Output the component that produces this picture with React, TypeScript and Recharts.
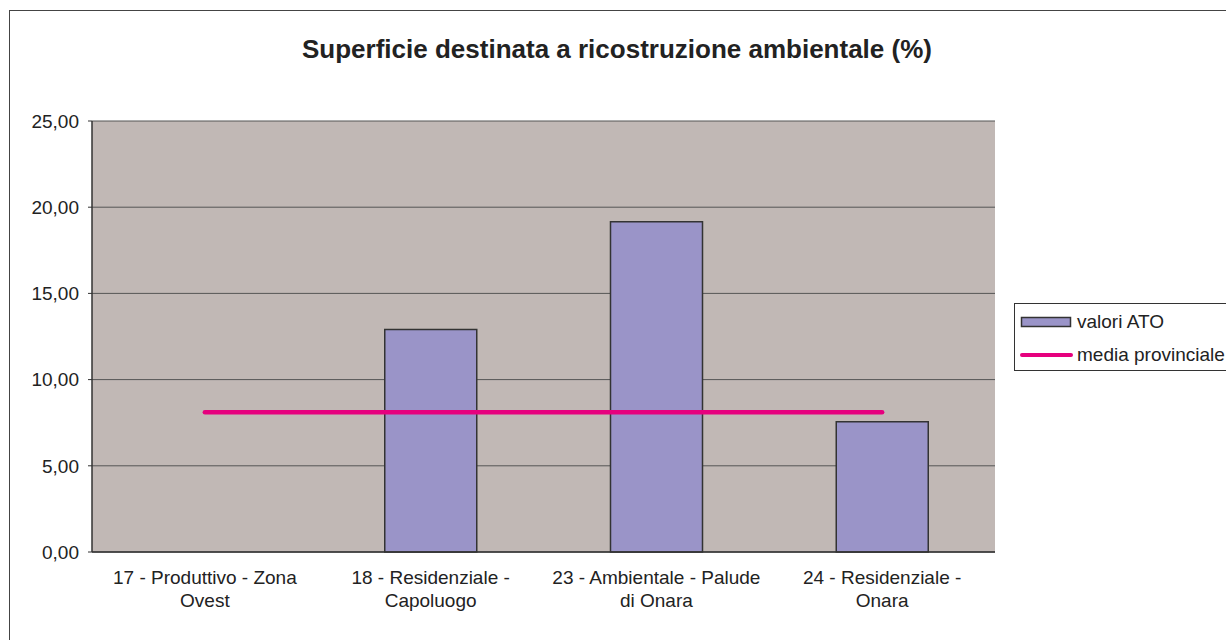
import { Bar, CartesianGrid, ComposedChart, Legend, Line, ReferenceLine, XAxis, YAxis } from "recharts";

const categories = [
  "17 - Produttivo - Zona\nOvest",
  "18 - Residenziale -\nCapoluogo",
  "23 - Ambientale - Palude\ndi Onara",
  "24 - Residenziale -\nOnara",
];
const valoriAto = [0, 12.9, 19.15, 7.55];
const mediaProvinciale = [8.1, 8.1, 8.1, 8.1];
const yTicks = [0, 5, 10, 15, 20, 25];
const edgeTicks = [0, 1, 2, 3, 4];
const legendOrder = ["ato", "media"];

const data = categories.map((c, i) => ({ cat: c, ato: valoriAto[i], media: mediaProvinciale[i] }));

const FONT = '"Liberation Sans", Arial, sans-serif';
const BAR_FILL = "#9a94c8";
const LINE_COLOR = "#e6007e";

function CatTick(props: any) {
  const { x, y, payload } = props;
  const lines = String(payload.value).split("\n");
  return (
    <text x={x} y={y} textAnchor="middle" fontFamily={FONT} fontSize={19} fill="#222">
      {lines.map((l, i) => (
        <tspan key={i} x={x} y={y + 32 + i * 23}>
          {l}
        </tspan>
      ))}
    </text>
  );
}

function LegendBox(props: any) {
  const items = [...(props.payload || [])].sort(
    (a: any, b: any) => legendOrder.indexOf(a.dataKey) - legendOrder.indexOf(b.dataKey)
  );
  return (
    <div
      style={{
        width: 213,
        height: 68,
        border: "1px solid #333",
        background: "#fff",
        fontFamily: FONT,
        fontSize: 19,
        color: "#222",
        boxSizing: "border-box",
      }}
    >
      {items.map((it: any, i: number) => (
        <div key={i} style={{ display: "flex", alignItems: "center", height: 33, marginTop: i === 0 ? 1 : 0 }}>
          <svg width={62} height={14} style={{ flex: "none" }}>
            {it.type === "line" ? (
              <line x1={7} y1={7} x2={56} y2={7} stroke={LINE_COLOR} strokeWidth={4} strokeLinecap="round" />
            ) : (
              <rect x={6.5} y={2.5} width={49} height={9} fill={BAR_FILL} stroke="#333" strokeWidth={1.5} />
            )}
          </svg>
          <span style={{ whiteSpace: "nowrap" }}>{it.value}</span>
        </div>
      ))}
    </div>
  );
}

export default function App() {
  return (
    <div style={{ position: "absolute", left: 0, top: 0, width: 1226, height: 640, overflow: "hidden", background: "#fff" }}>
      <div
        style={{
          position: "absolute",
          left: 9,
          top: 10,
          width: 1240,
          height: 660,
          border: "1px solid #444",
          boxSizing: "border-box",
        }}
      />
      <div
        style={{
          position: "absolute",
          left: 0,
          top: 34,
          width: 1234,
          textAlign: "center",
          fontFamily: FONT,
          fontWeight: "bold",
          fontSize: 26,
          color: "#222",
        }}
      >
        Superficie destinata a ricostruzione ambientale (%)
      </div>
      <div style={{ position: "absolute", left: 0, top: 0 }}>
        <ComposedChart width={1226} height={640} data={data} margin={{ top: 121, right: 231, bottom: 28, left: 0 }}>
          <CartesianGrid vertical={false} fill="#c1b8b5" fillOpacity={1} stroke="#555" strokeWidth={1} />
          <XAxis
            xAxisId="edges"
            type="number"
            domain={[0, 4]}
            ticks={edgeTicks}
            height={0}
            axisLine={false}
            tickSize={5}
            tickLine={{ stroke: "#333" }}
            tickFormatter={() => ""}
          />
          <XAxis
            xAxisId="cat"
            dataKey="cat"
            height={60}
            tickLine={false}
            tickSize={0}
            tickMargin={0}
            axisLine={{ stroke: "#333", strokeWidth: 1.5 }}
            tick={<CatTick />}
            interval={0}
          />
          <YAxis
            width={92}
            domain={[0, 25]}
            ticks={yTicks}
            tickSize={4}
            tickMargin={9}
            tickLine={{ stroke: "#333" }}
            axisLine={{ stroke: "#333", strokeWidth: 1.5 }}
            tick={{ fontFamily: FONT, fontSize: 19, fill: "#222" }}
            tickFormatter={(v: number) => v.toFixed(2).replace(".", ",")}
          />
          <ReferenceLine xAxisId="edges" x={4} stroke="#8c8484" strokeWidth={2} />
          <Bar
            xAxisId="cat"
            dataKey="ato"
            name="valori ATO"
            fill={BAR_FILL}
            stroke="#333"
            strokeWidth={1.5}
            barSize={92}
            isAnimationActive={false}
            legendType="rect"
          />
          <Line
            xAxisId="cat"
            dataKey="media"
            name="media provinciale"
            type="linear"
            stroke={LINE_COLOR}
            strokeWidth={4.5}
            strokeLinecap="round"
            dot={false}
            activeDot={false}
            isAnimationActive={false}
            legendType="line"
          />
          <Legend
            layout="horizontal"
            verticalAlign="middle"
            align="center"
            content={<LegendBox />}
            wrapperStyle={{ left: 1014, top: 303, width: 213, height: 68 }}
          />
        </ComposedChart>
      </div>
    </div>
  );
}
